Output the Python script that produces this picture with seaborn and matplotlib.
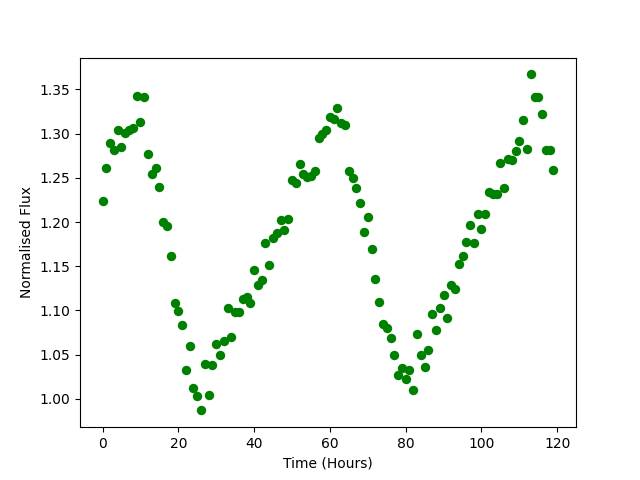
import matplotlib
matplotlib.use("Agg")
import matplotlib.pyplot as plt
import seaborn as sns
import numpy as np
import pandas as pd

time_hours = list(range(120))
flux = [
    1.224, 1.261, 1.289, 1.281, 1.304, 1.285, 1.301, 1.304, 1.306, 1.343,
    1.313, 1.341, 1.277, 1.254, 1.261, 1.240, 1.200, 1.195, 1.162, 1.108,
    1.099, 1.084, 1.033, 1.060, 1.012, 1.003, 0.987, 1.039, 1.004, 1.038,
    1.062, 1.050, 1.065, 1.103, 1.070, 1.098, 1.098, 1.113, 1.115, 1.108,
    1.146, 1.129, 1.134, 1.176, 1.152, 1.182, 1.188, 1.202, 1.191, 1.204,
    1.248, 1.244, 1.266, 1.254, 1.251, 1.252, 1.258, 1.295, 1.300, 1.304,
    1.319, 1.316, 1.329, 1.312, 1.310, 1.258, 1.250, 1.239, 1.222, 1.189,
    1.206, 1.170, 1.136, 1.110, 1.085, 1.080, 1.069, 1.050, 1.027, 1.035,
    1.022, 1.033, 1.010, 1.073, 1.050, 1.036, 1.055, 1.096, 1.078, 1.103,
    1.118, 1.092, 1.129, 1.124, 1.153, 1.162, 1.177, 1.197, 1.176, 1.209,
    1.192, 1.209, 1.234, 1.232, 1.232, 1.267, 1.239, 1.271, 1.270, 1.280,
    1.292, 1.315, 1.283, 1.367, 1.342, 1.342, 1.322, 1.282, 1.281, 1.259,
]

df = pd.DataFrame({"time": time_hours, "flux": flux})

fig, ax = plt.subplots(figsize=(6.4, 4.8), dpi=100)
sns.scatterplot(data=df, x="time", y="flux", color="green", s=46,
                linewidth=0, ax=ax)
ax.set_xlabel("Time (Hours)")
ax.set_ylabel("Normalised Flux")
ax.set_xticks([0, 20, 40, 60, 80, 100, 120])
ax.set_yticks([1.00, 1.05, 1.10, 1.15, 1.20, 1.25, 1.30, 1.35])
fig.savefig("out.png", dpi=100)
